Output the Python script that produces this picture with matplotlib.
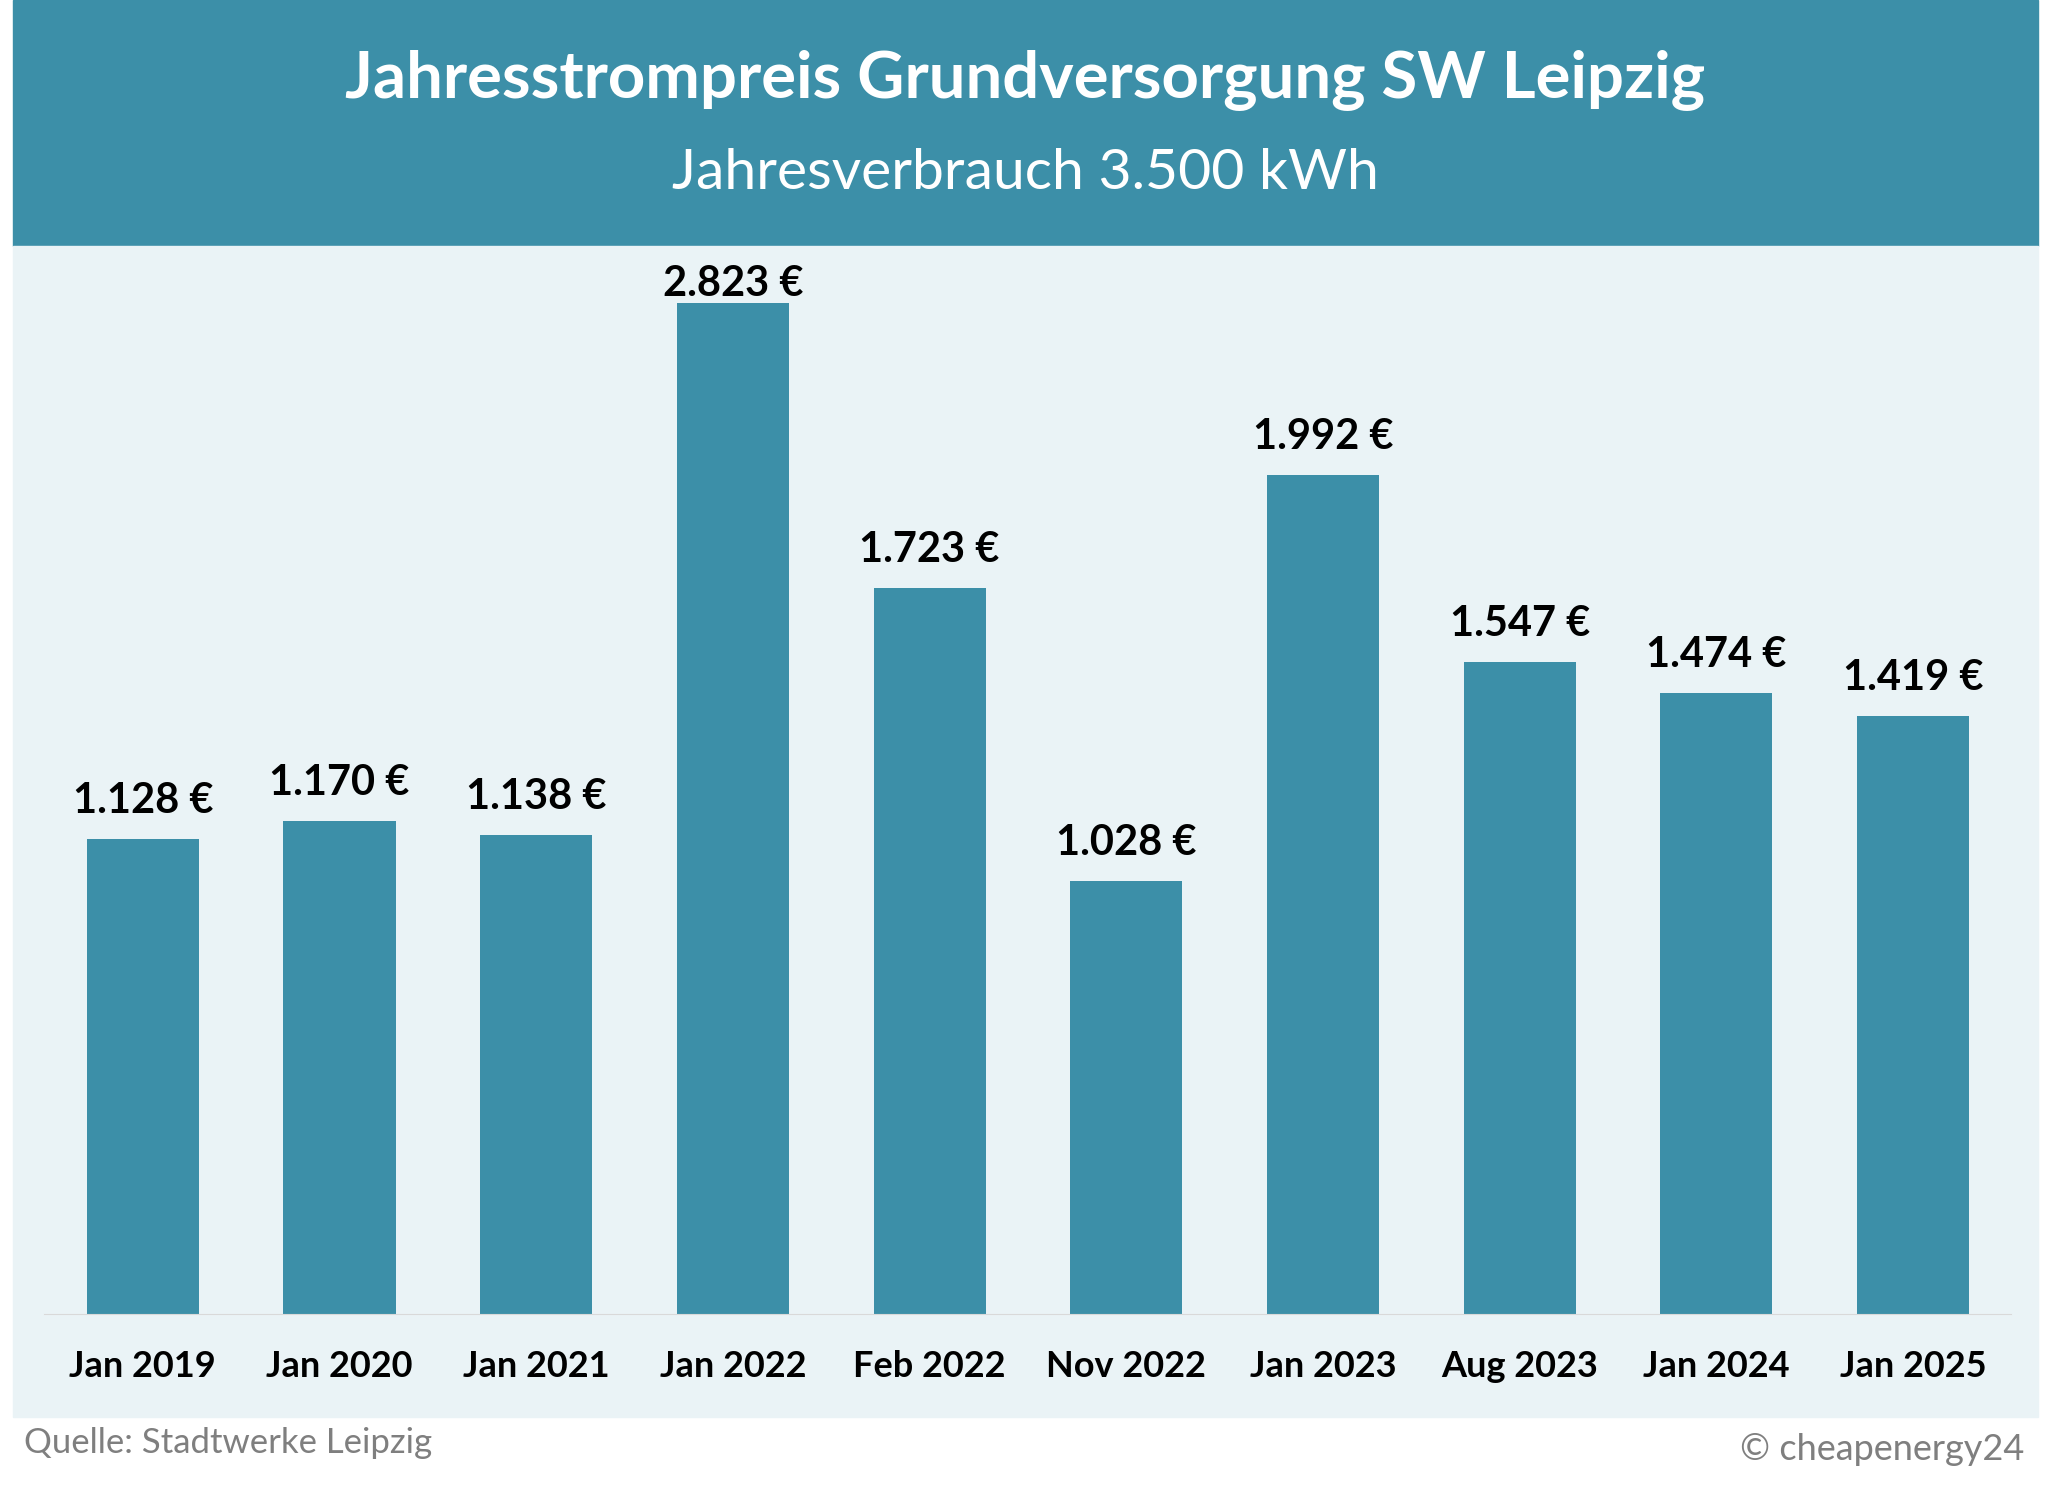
import matplotlib; matplotlib.use('Agg')
import matplotlib.pyplot as plt
from matplotlib.patches import Rectangle

LABELS = ['Jan 2019', 'Jan 2020', 'Jan 2021', 'Jan 2022', 'Feb 2022', 'Nov 2022',
          'Jan 2023', 'Aug 2023', 'Jan 2024', 'Jan 2025']
PRICES = [1128, 1170, 1138, 2823, 1723, 1028, 1992, 1547, 1474, 1419]

TEAL = '#3C8FA8'
BG = '#EAF3F6'
W, H = 1568, 1146  # layout measured in these units
YMAX = 2400        # the Jan 2022 bar is cut off at the top, as in the original

plt.rcParams['font.family'] = 'Lato'
fig = plt.figure(figsize=(20.48, 14.97), dpi=100)
fig.patch.set_facecolor('white')

def box(x0, y0, x1, y1, c):
    fig.patches.append(Rectangle((x0 / W, 1 - y1 / H), (x1 - x0) / W, (y1 - y0) / H,
                                 transform=fig.transFigure, color=c, zorder=-5))

box(10, 0, 1560, 188, TEAL)
box(10, 188, 1560, 1085, BG)
fig.text(785 / W, 1 - 62 / H, 'Jahresstrompreis Grundversorgung SW Leipzig', ha='center',
         va='center', color='white', fontsize=47, fontweight='bold')
fig.text(785 / W, 1 - 133 / H, 'Jahresverbrauch 3.500 kWh', ha='center', va='center',
         color='white', fontsize=41)
fig.text(18 / W, 1 - 1105 / H, 'Quelle: Stadtwerke Leipzig', ha='left', va='center',
         color='#7F7F7F', fontsize=25)
fig.text(1550 / W, 1 - 1110 / H, '© cheapenergy24', ha='right', va='center',
         color='#7F7F7F', fontsize=26)

ax = fig.add_axes([34 / W, 1 - 1006 / H, 1506 / W, 774 / H])
ax.set_facecolor('none')
x = range(len(PRICES))
ax.bar(x, PRICES, width=0.57, color=TEAL)
for i, v in zip(x, PRICES):
    off = 45 if v <= YMAX else 0
    ax.text(i, min(v, YMAX) + off, f'{v/1000:.3f} €', ha='center', va='bottom',
            fontsize=30, fontweight='bold', clip_on=False)
ax.set_xlim(-0.5, len(PRICES) - 0.5)
ax.set_ylim(0, YMAX)
ax.set_yticks([])
ax.set_xticks(list(x))
ax.set_xticklabels(LABELS, fontsize=26, fontweight='bold')
ax.tick_params(axis='x', length=0, pad=26)
for s in ['top', 'right', 'left']:
    ax.spines[s].set_visible(False)
ax.spines['bottom'].set_color('#D9D9D9')
fig.savefig('out.png', dpi=100)
